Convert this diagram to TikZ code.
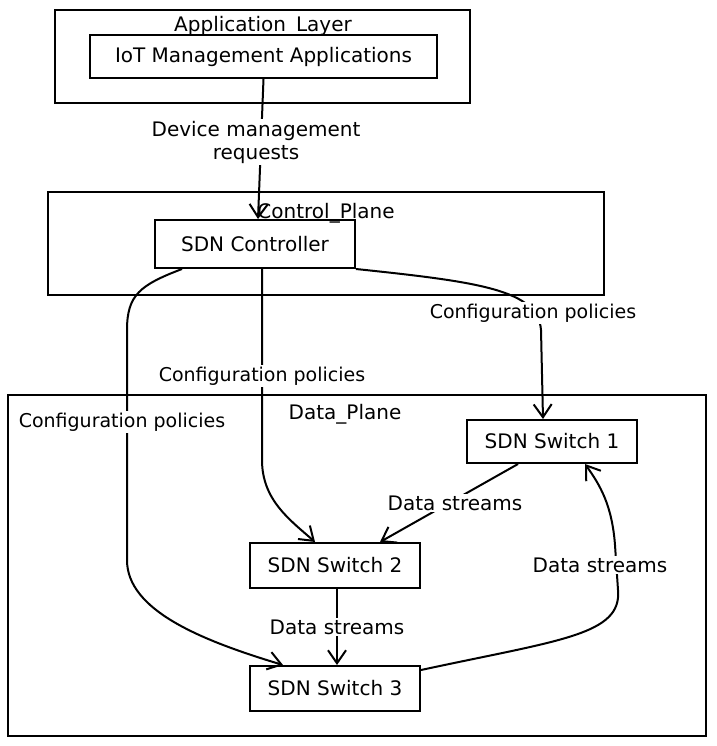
\documentclass[tikz,border=0pt]{standalone}
\usepackage{fontspec}
\setmainfont{DejaVu Sans}
\usetikzlibrary{arrows.meta}
\begin{document}
\begin{tikzpicture}[x=1pt,y=-1pt,
  every node/.style={font=\fontsize{20}{23}\selectfont},
  frame/.style={draw, line width=2pt, inner sep=0pt},
  box/.style={draw, line width=2pt, inner sep=0pt},
  ttl/.style={inner sep=0pt},
  lbl/.style={fill=white, inner sep=2pt, align=center},
  cfg/.style={lbl, font=\fontsize{19}{22}\selectfont},
  arr/.style={line width=2pt, -{Straight Barb[length=13pt,width=18pt,line width=2pt]}}]
\useasboundingbox (0,0) rectangle (716,746);
\fill[white] (0,0) rectangle (716,746);
% frames
\node[frame, minimum width=415pt, minimum height=93pt] (appf) at (262.5,56.5) {};
\node[frame, minimum width=556pt, minimum height=103pt] (ctrlf) at (326,243.5) {};
\node[frame, minimum width=698pt, minimum height=341pt] (dataf) at (357,565.5) {};
% boxes
\node[box, fill=white, minimum width=347pt, minimum height=43pt] (iot) at (263.5,56.5) {IoT Management Applications};
\node[box, fill=white, minimum width=200pt, minimum height=48pt] (ctrl) at (255,244) {SDN Controller};
\node[box, minimum width=170pt, minimum height=43pt] (sw1) at (552,441.5) {SDN Switch 1};
\node[box, minimum width=170pt, minimum height=45pt] (sw2) at (335,565.5) {SDN Switch 2};
\node[box, minimum width=170pt, minimum height=45pt] (sw3) at (335,688.5) {SDN Switch 3};
% titles
\node[ttl] (appt) at (263,26) {Application\_Layer};
\node[ttl] (ctrlt) at (326,213) {Control\_Plane};
\node[ttl] (datat) at (345,414) {Data\_Plane};
% connectors
\draw[arr] (iot.south) -- ([xshift=3pt]ctrl.north);
\node[lbl] (l0) at (256,142) {Device management\\requests};
\draw[arr] (ctrl.south east) .. controls (480,282) and (538,290) .. (541,330) -- ([xshift=-9pt]sw1.north);
\node[cfg] (l1) at (533,313) {Configuration policies};
\draw[arr] ([xshift=7pt]ctrl.south) -- (262,460) .. controls (262,500) and (290,520) .. ([xshift=-20pt]sw2.north);
\node[cfg] (l2) at (262,376) {Configuration policies};
\draw[arr] ([xshift=-73pt]ctrl.south) .. controls (140,285) and (127,295) .. (127,330) -- (127,560) .. controls (127,610) and (200,640) .. ([xshift=-52pt]sw3.north);
\node[cfg] (l3) at (122,422) {Configuration policies};
\draw[arr] ([xshift=-34pt]sw1.south) -- ([xshift=45pt]sw2.north);
\node[lbl] (l4) at (455,503) {Data streams};
\draw[arr] ([xshift=2pt]sw2.south) -- ([xshift=2pt]sw3.north);
\node[lbl] (l5) at (337,627) {Data streams};
\draw[arr] ([yshift=-5pt]sw3.north east) .. controls (560,640) and (622,635) .. (618,590) -- (615,545) .. controls (612,505) and (600,485) .. ([xshift=33pt]sw1.south);
\node[lbl] (l6) at (600,565) {Data streams};
\end{tikzpicture}
\end{document}
